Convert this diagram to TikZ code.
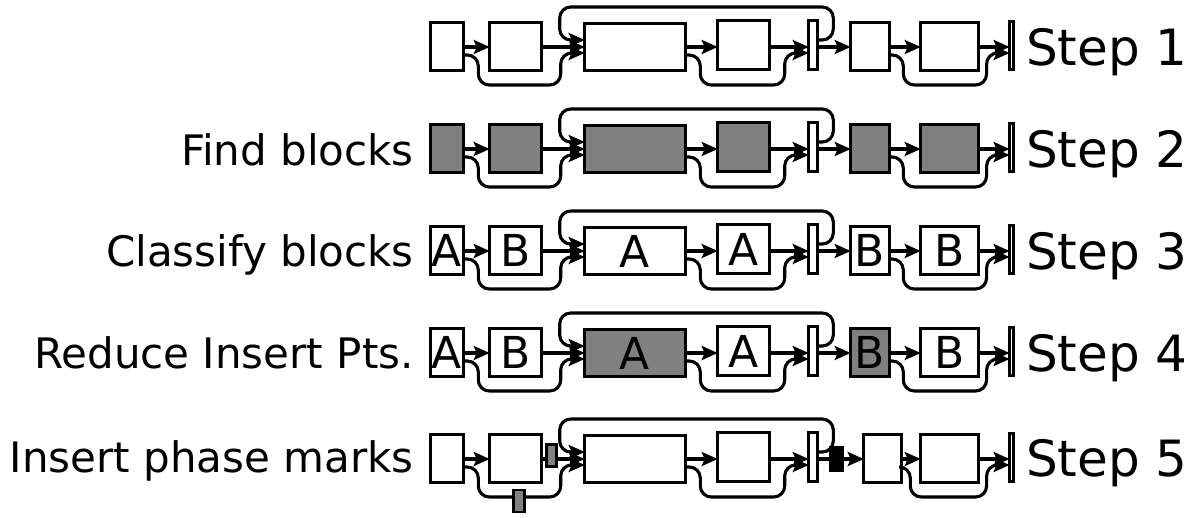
\documentclass[tikz,border=0pt]{standalone}
\usepackage{fontspec}
\setmainfont{DejaVu Sans}
\usetikzlibrary{arrows.meta,calc}
\definecolor{blockgray}{RGB}{128,128,128}
\newcommand\chainlinks[2]{%
  \draw[link] (#1b1.east |- #1m) -- (#1b2.west |- #1m);
  \draw[link] (#1b1.east |- #1lo) -- ++(15,0) -- ++(0,30) -| ($(#1b3.west |- #1li)+(-24,0)$) -- (#1b3.west |- #1li);
  \draw[link] (#1b2.east |- #1m) -- (#1b3.west |- #1m);
  \draw[link] (#1bar.east |- #1ti) -- ++(16,0) -- ++(0,-33) -| ($(#1b3.west |- #1ti)+(-25,0)$) -- (#1b3.west |- #1ti);
  \draw[link] (#1b3.east |- #1m) -- (#1b4.west |- #1m);
  \draw[link] (#1b3.east |- #1lo) -- ++(15,0) -- ++(0,30) -| ($(#1bar.west |- #1li)+(-24,0)$) -- (#1bar.west |- #1li);
  \draw[link] (#1b4.east |- #1m) -- (#1bar.west |- #1m);
  \draw[link] (#1bar.east |- #1m) -- (#1b5.west |- #1m);
  \draw[link] (#1b5.east |- #1m) -- (#1b6.west |- #1m);
  \draw[link] (#1b5.east |- #1lo) -- ++(#2,0) -- ++(0,30) -| ($(#1eb.west |- #1li)+(-23,0)$) -- (#1eb.west |- #1li);
  \draw[link] (#1b6.east |- #1m) -- (#1eb.west |- #1m);
}
\newcommand\rowcoords[1]{%
  \coordinate (#1m) at (0,47);
  \coordinate (#1lo) at (0,55);
  \coordinate (#1li) at (0,53);
  \coordinate (#1ti) at (0,40);
}
\begin{document}
\begin{tikzpicture}[x=1pt,y=-1pt,
  box/.style={draw,line width=3.4pt,inner sep=0pt,outer sep=0pt,fill=white,
    font=\fontsize{44}{44}\selectfont},
  shaded/.style={fill=blockgray},
  wa/.style={box,minimum width=32.6pt,minimum height=47.6pt},
  wb/.style={box,minimum width=51.6pt,minimum height=47.6pt},
  wc/.style={box,minimum width=100.6pt,minimum height=46.6pt},
  wd/.style={box,minimum width=51.6pt,minimum height=48.6pt},
  wbar/.style={box,minimum width=8.6pt,minimum height=48.6pt},
  we/.style={box,minimum width=38.6pt,minimum height=47.6pt},
  wf/.style={box,minimum width=57.6pt,minimum height=47.6pt},
  wend/.style={box,minimum width=3.8pt,minimum height=47.6pt},
  link/.style={line width=3.1pt,-{Stealth[length=16pt,width=14pt,inset=3pt]},rounded corners=11pt},
  lab/.style={anchor=base east,inner sep=0pt,font=\fontsize{42}{42}\selectfont},
  steplab/.style={anchor=base west,inner sep=0pt,font=\fontsize{50}{50}\selectfont},
  gmark/.style={draw,line width=2.8pt,fill=blockgray,inner sep=0pt,outer sep=0pt,minimum width=10.5pt,minimum height=22pt},
  bmark/.style={draw,line width=2.8pt,fill=black,inner sep=0pt,outer sep=0pt,minimum width=12pt,minimum height=23pt}]
\useasboundingbox (0,0) rectangle (1201,517);

% ---------- Row 1
\begin{scope}
  \rowcoords{r1}
  \node[wa] (r1b1) at (447,46.5) {};
  \node[wb] (r1b2) at (515.5,46.5) {};
  \node[wc] (r1b3) at (635,47) {};
  \node[wd] (r1b4) at (743.5,45) {};
  \node[wbar] (r1bar) at (813,45) {};
  \node[we] (r1b5) at (870,46.5) {};
  \node[wf] (r1b6) at (949.5,46.5) {};
  \node[wend] (r1eb) at (1011.5,45.5) {};
  \chainlinks{r1}{14}
  \node[steplab] (r1step) at (1026,65) {Step 1};
\end{scope}

% ---------- Row 2
\begin{scope}[shift={(0,102)}]
  \rowcoords{r2}
  \node[wa,shaded] (r2b1) at (447,46.5) {};
  \node[wb,shaded] (r2b2) at (515.5,46.5) {};
  \node[wc,shaded] (r2b3) at (635,47) {};
  \node[wd,shaded] (r2b4) at (743.5,45) {};
  \node[wbar] (r2bar) at (813,45) {};
  \node[we,shaded] (r2b5) at (870,46.5) {};
  \node[wf,shaded] (r2b6) at (949.5,46.5) {};
  \node[wend] (r2eb) at (1011.5,45.5) {};
  \chainlinks{r2}{14}
  \node[lab] (r2lab) at (414,63) {Find blocks};
  \node[steplab] (r2step) at (1026,65) {Step 2};
\end{scope}

% ---------- Row 3
\begin{scope}[shift={(0,204)}]
  \rowcoords{r3}
  \node[wa] (r3b1) at (447,46.5) {A};
  \node[wb] (r3b2) at (515.5,46.5) {B};
  \node[wc] (r3b3) at (635,47) {A};
  \node[wd] (r3b4) at (743.5,45) {A};
  \node[wbar] (r3bar) at (813,45) {};
  \node[we] (r3b5) at (870,46.5) {B};
  \node[wf] (r3b6) at (949.5,46.5) {B};
  \node[wend] (r3eb) at (1011.5,45.5) {};
  \chainlinks{r3}{14}
  \node[lab] (r3lab) at (414,62) {Classify blocks};
  \node[steplab] (r3step) at (1026,65) {Step 3};
\end{scope}

% ---------- Row 4
\begin{scope}[shift={(0,306)}]
  \rowcoords{r4}
  \node[wa] (r4b1) at (447,46.5) {A};
  \node[wb] (r4b2) at (515.5,46.5) {B};
  \node[wc,shaded] (r4b3) at (635,47) {A};
  \node[wd] (r4b4) at (743.5,45) {A};
  \node[wbar] (r4bar) at (813,45) {};
  \node[we,shaded] (r4b5) at (870,46.5) {B};
  \node[wf] (r4b6) at (949.5,46.5) {B};
  \node[wend] (r4eb) at (1011.5,45.5) {};
  \chainlinks{r4}{14}
  \node[lab] (r4lab) at (414,62) {Reduce Insert Pts.};
  \node[steplab] (r4step) at (1026,65) {Step 4};
\end{scope}

% ---------- Row 5
\begin{scope}[shift={(0,412)}]
  \rowcoords{r5}
  \node[wa] (r5b1) at (447,46.5) {};
  \node[wb] (r5b2) at (515.5,46.5) {};
  \node[wc] (r5b3) at (635,47) {};
  \node[wd] (r5b4) at (743.5,45) {};
  \node[wbar] (r5bar) at (813,45) {};
  \node[we,minimum width=37.6pt] (r5b5) at (882.5,46.5) {};
  \node[wf] (r5b6) at (949.5,46.5) {};
  \node[wend] (r5eb) at (1011.5,45.5) {};
  \chainlinks{r5}{9}
  \node[gmark] (r5m1) at (551.5,43.5) {};
  \node[gmark] (r5m2) at (519,89) {};
  \node[bmark] (r5m3) at (836.5,47) {};
  \node[lab] (r5lab) at (414,60) {Insert phase marks};
  \node[steplab] (r5step) at (1026,64) {Step 5};
\end{scope}
\end{tikzpicture}
\end{document}
